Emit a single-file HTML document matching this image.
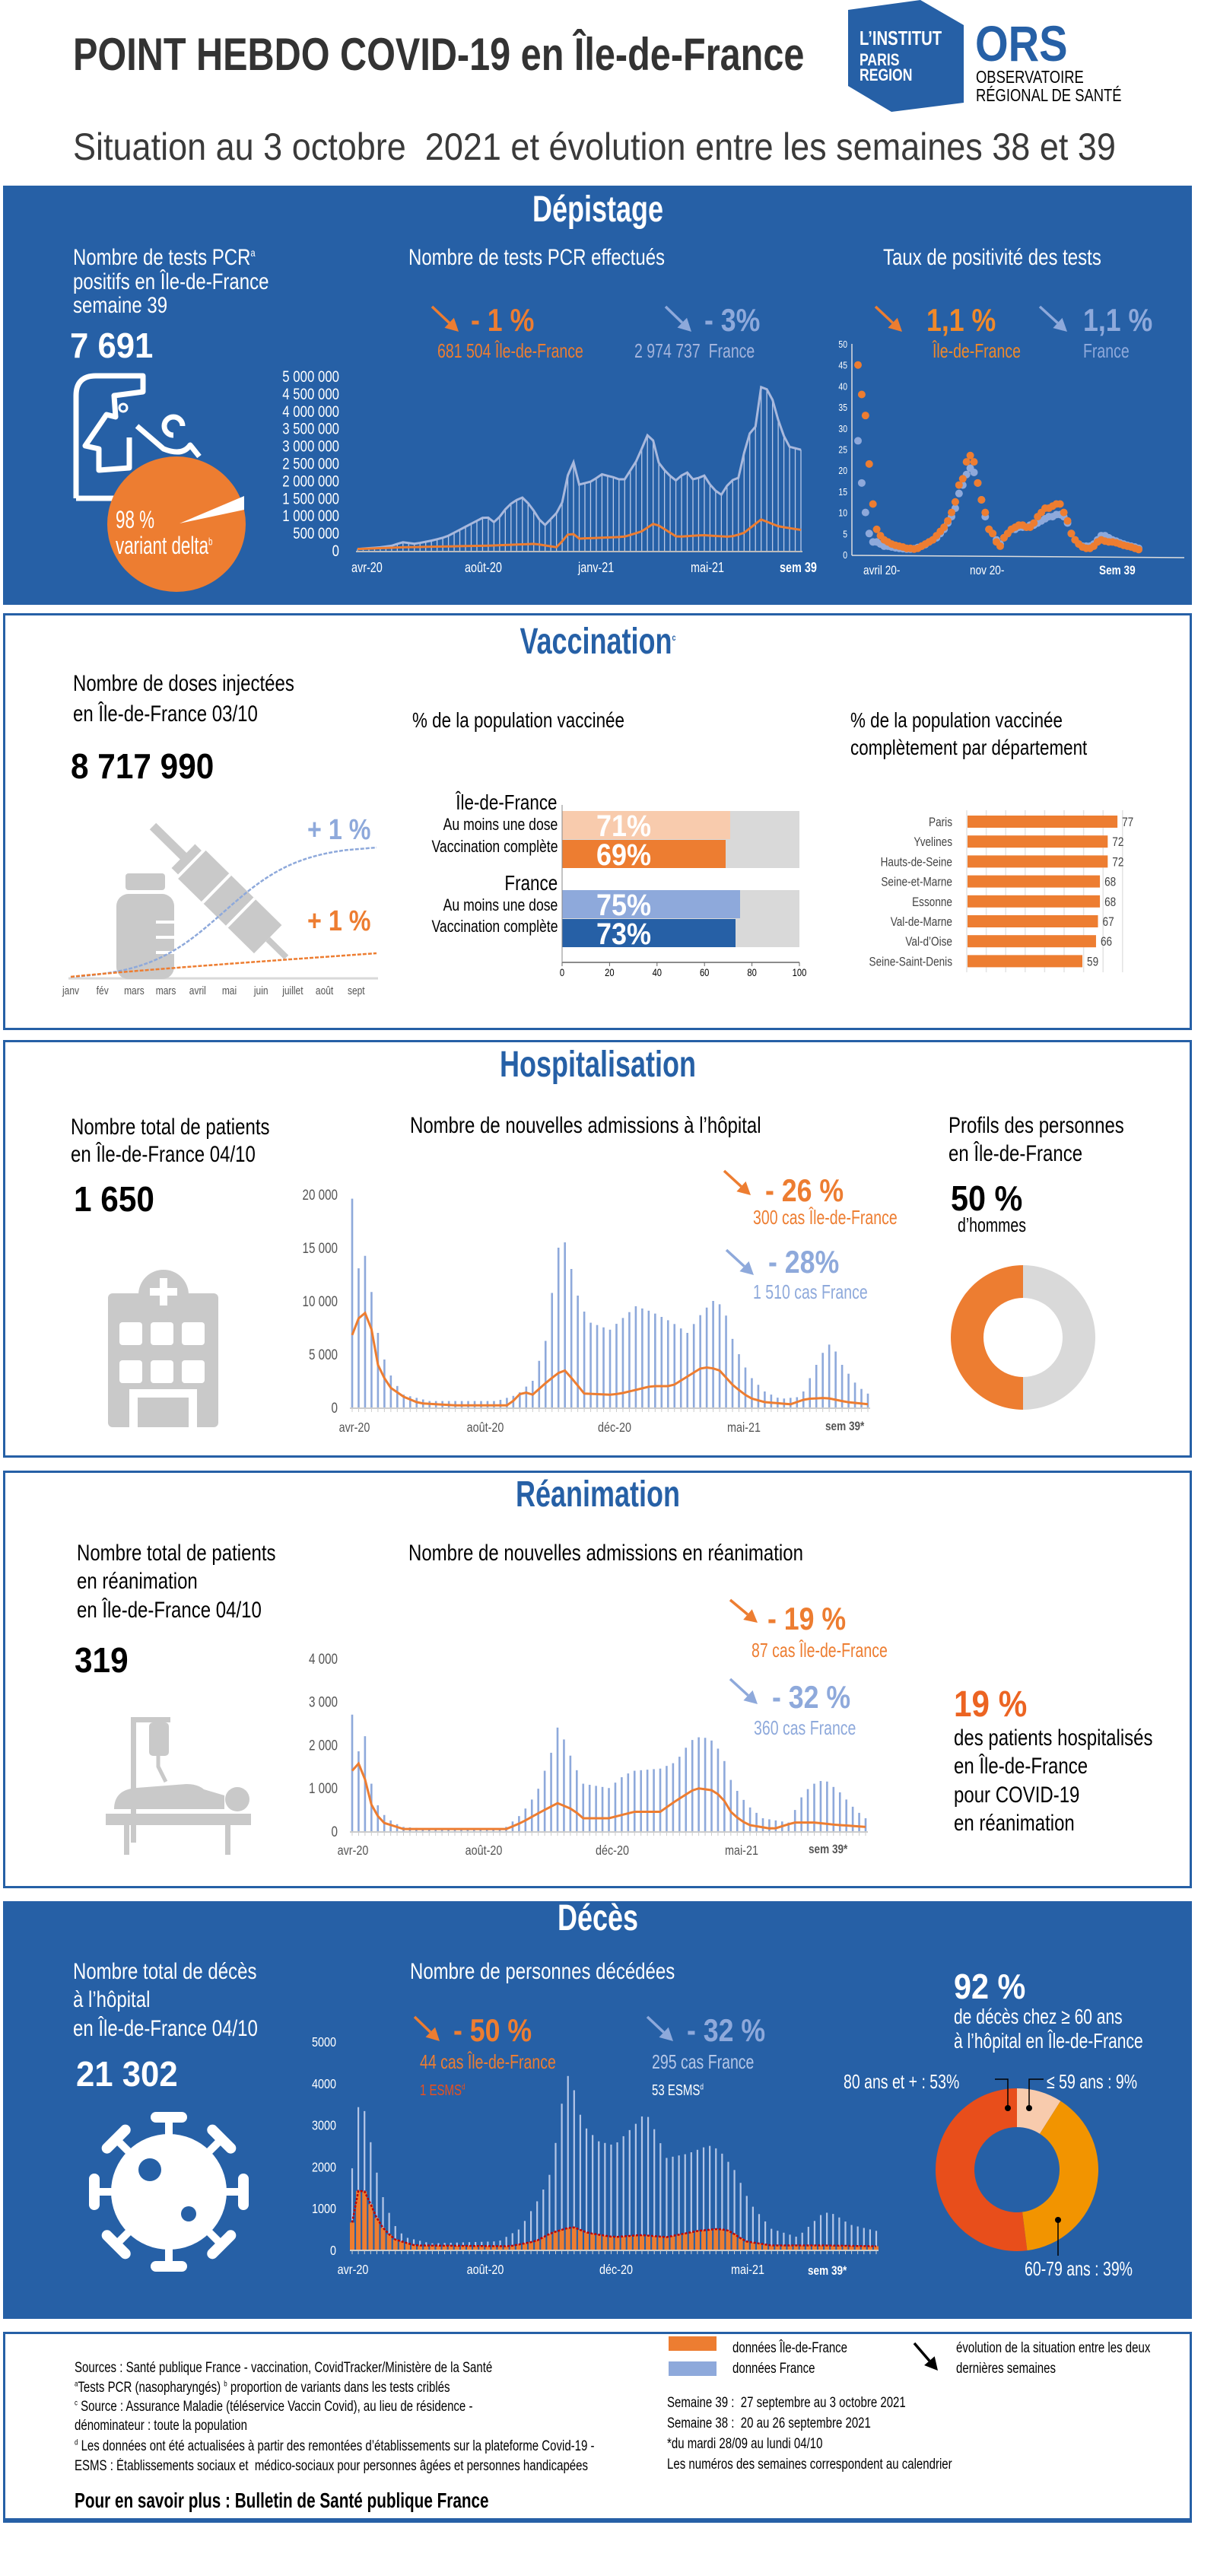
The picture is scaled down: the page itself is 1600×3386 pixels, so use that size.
<!DOCTYPE html>
<html><head><meta charset="utf-8">
<style>
body{margin:0;width:1600px;height:3386px;position:relative;background:#fff;overflow:hidden}
.t{position:absolute;white-space:nowrap;line-height:1;font-family:"Liberation Sans",Arial,sans-serif;transform:scaleX(.8);transform-origin:0 50%;color:#000}
.r{transform-origin:100% 50%}
.c{left:0;width:1572px;text-align:center;transform-origin:50% 50%}
.b{font-weight:bold}
.w{color:#fff}
.o{color:#ed7d31}
.lb{color:#8ea9db}
.f{font-size:19px;transform:scaleX(.79)}
.box{position:absolute;left:4px;width:1563px;box-sizing:border-box}
.blue{background:#2660a6}
.wb{border:3px solid #2660a6;background:#fff}
svg{position:absolute;left:0;top:0}
</style></head><body>
<div class="box blue" style="top:244px;height:551px"></div>
<div class="box wb" style="top:806px;height:548px"></div>
<div class="box wb" style="top:1367px;height:549px"></div>
<div class="box wb" style="top:1933px;height:549px"></div>
<div class="box blue" style="top:2499px;height:549px"></div>
<div class="box wb" style="top:3065px;height:251px;border-bottom-width:6px"></div>

<svg id="g" width="1600" height="3386" viewBox="0 0 1600 3386">
<polygon points="1115,13 1210,0 1267,33 1267,135 1172,147 1115,113" fill="#2660a6"/>
</svg>

<!-- header -->
<div class="t b" style="left:96px;top:42px;font-size:60px;color:#333;transform:scaleX(.81)">POINT HEBDO COVID-19 en Île-de-France</div>
<div class="t w b" style="left:1130px;top:37px;font-size:26px;transform:scaleX(.78)">L’INSTITUT</div>
<div class="t w b" style="left:1130px;top:68px;font-size:22px;transform:scaleX(.8)">PARIS</div>
<div class="t w b" style="left:1130px;top:88px;font-size:22px;transform:scaleX(.8)">REGION</div>
<div class="t b" style="left:1282px;top:24px;font-size:66px;color:#2660a6;transform:scaleX(.85)">ORS</div>
<div class="t" style="left:1283px;top:90px;font-size:23px;transform:scaleX(.8)">OBSERVATOIRE</div>
<div class="t" style="left:1283px;top:114px;font-size:23px;transform:scaleX(.8)">RÉGIONAL DE SANTÉ</div>
<div class="t" style="left:96px;top:168px;font-size:50px;color:#3a3a3a;transform:scaleX(.9)">Situation au 3 octobre&nbsp; 2021 et évolution entre les semaines 38 et 39</div>

<!-- Dépistage -->
<div class="t c w b" style="top:252px;font-size:48px;transform:scaleX(.75)">Dépistage</div>
<div class="t w" style="left:96px;top:324px;font-size:30px">Nombre de tests PCR<sup style="font-size:14px">a</sup></div>
<div class="t w" style="left:96px;top:356px;font-size:30px">positifs en Île-de-France</div>
<div class="t w" style="left:96px;top:387px;font-size:30px">semaine 39</div>
<div class="t w b" style="left:92px;top:431px;font-size:46px;transform:scaleX(.95)">7 691</div>
<div class="t w" style="left:537px;top:324px;font-size:30px">Nombre de tests PCR effectués</div>
<div class="t w" style="left:1161px;top:324px;font-size:30px">Taux de positivité des tests</div>
<div class="t o b" style="left:619px;top:400px;font-size:42px;transform:scaleX(.85)">- 1 %</div>
<div class="t o" style="left:575px;top:448px;font-size:26px;transform:scaleX(.75)">681 504 Île-de-France</div>
<div class="t lb b" style="left:926px;top:400px;font-size:42px;transform:scaleX(.85)">- 3%</div>
<div class="t" style="left:834px;top:448px;font-size:26px;color:#a4b4dc;transform:scaleX(.75)">2 974 737&nbsp; France</div>
<div class="t b" style="left:1218px;top:400px;font-size:42px;color:#f0892a;transform:scaleX(.85)">1,1 %</div>
<div class="t" style="left:1226px;top:448px;font-size:26px;color:#f0892a;transform:scaleX(.75)">Île-de-France</div>
<div class="t lb b" style="left:1424px;top:400px;font-size:42px;transform:scaleX(.85)">1,1 %</div>
<div class="t lb" style="left:1424px;top:448px;font-size:26px;transform:scaleX(.75)">France</div>
<div class="t w" style="left:152px;top:667px;font-size:32px;transform:scaleX(.7)">98 %</div>
<div class="t w" style="left:152px;top:701px;font-size:32px;transform:scaleX(.7)">variant delta<sup style="font-size:14px">b</sup></div>
<div class="t w" style="left:462px;top:737px;font-size:18px">avr-20</div>
<div class="t w" style="left:611px;top:737px;font-size:18px">août-20</div>
<div class="t w" style="left:760px;top:737px;font-size:18px">janv-21</div>
<div class="t w" style="left:908px;top:737px;font-size:18px">mai-21</div>
<div class="t w b" style="left:1025px;top:737px;font-size:18px">sem 39</div>
<div class="t w" style="left:1135px;top:741px;font-size:17px">avril 20-</div>
<div class="t w" style="left:1275px;top:741px;font-size:17px">nov 20-</div>
<div class="t w b" style="left:1445px;top:741px;font-size:17px">Sem 39</div>

<!-- Vaccination -->
<div class="t c b" style="top:820px;font-size:48px;color:#2660a6;transform:scaleX(.75)">Vaccination<sup style="font-size:12px">c</sup></div>
<div class="t" style="left:96px;top:884px;font-size:30px">Nombre de doses injectées</div>
<div class="t" style="left:96px;top:924px;font-size:30px">en Île-de-France 03/10</div>
<div class="t b" style="left:93px;top:984px;font-size:46px;transform:scaleX(.92)">8 717 990</div>
<div class="t b lb" style="left:404px;top:1072px;font-size:38px;transform:scaleX(.85)">+ 1 %</div>
<div class="t b o" style="left:404px;top:1192px;font-size:38px;transform:scaleX(.85)">+ 1 %</div>
<div class="t" style="left:542px;top:933px;font-size:28px">% de la population vaccinée</div>
<div class="t" style="left:1118px;top:933px;font-size:28px">% de la population vaccinée</div>
<div class="t" style="left:1118px;top:969px;font-size:28px">complètement par département</div>
<div class="t r" style="right:867px;top:1041px;font-size:28px">Île-de-France</div>
<div class="t r" style="right:867px;top:1073px;font-size:22px">Au moins une dose</div>
<div class="t r" style="right:867px;top:1102px;font-size:22px">Vaccination complète</div>
<div class="t r" style="right:867px;top:1147px;font-size:28px">France</div>
<div class="t r" style="right:867px;top:1179px;font-size:22px">Au moins une dose</div>
<div class="t r" style="right:867px;top:1207px;font-size:22px">Vaccination complète</div>

<!-- Hospitalisation -->
<div class="t c b" style="top:1376px;font-size:48px;color:#2660a6;transform:scaleX(.75)">Hospitalisation</div>
<div class="t" style="left:93px;top:1467px;font-size:30px">Nombre total de patients</div>
<div class="t" style="left:93px;top:1503px;font-size:30px">en Île-de-France 04/10</div>
<div class="t b" style="left:97px;top:1553px;font-size:46px;transform:scaleX(.92)">1 650</div>
<div class="t" style="left:539px;top:1465px;font-size:30px">Nombre de nouvelles admissions à l’hôpital</div>
<div class="t o b" style="left:1006px;top:1544px;font-size:42px;transform:scaleX(.85)">- 26 %</div>
<div class="t o" style="left:990px;top:1587px;font-size:26px;transform:scaleX(.75)">300 cas Île-de-France</div>
<div class="t lb b" style="left:1010px;top:1638px;font-size:42px;transform:scaleX(.85)">- 28%</div>
<div class="t lb" style="left:990px;top:1685px;font-size:26px;transform:scaleX(.75)">1 510 cas France</div>
<div class="t" style="left:1247px;top:1465px;font-size:30px">Profils des personnes</div>
<div class="t" style="left:1247px;top:1502px;font-size:30px">en Île-de-France</div>
<div class="t b" style="left:1250px;top:1552px;font-size:46px;transform:scaleX(.9)">50 %</div>
<div class="t" style="left:1259px;top:1597px;font-size:26px;transform:scaleX(.75)">d’hommes</div>

<!-- Réanimation -->
<div class="t c b" style="top:1941px;font-size:48px;color:#2660a6;transform:scaleX(.75)">Réanimation</div>
<div class="t" style="left:101px;top:2027px;font-size:30px">Nombre total de patients</div>
<div class="t" style="left:101px;top:2064px;font-size:30px">en réanimation</div>
<div class="t" style="left:101px;top:2102px;font-size:30px">en Île-de-France 04/10</div>
<div class="t b" style="left:98px;top:2159px;font-size:46px;transform:scaleX(.92)">319</div>
<div class="t" style="left:537px;top:2027px;font-size:30px">Nombre de nouvelles admissions en réanimation</div>
<div class="t o b" style="left:1009px;top:2107px;font-size:42px;transform:scaleX(.85)">- 19 %</div>
<div class="t o" style="left:988px;top:2156px;font-size:26px;transform:scaleX(.75)">87 cas Île-de-France</div>
<div class="t lb b" style="left:1015px;top:2210px;font-size:42px;transform:scaleX(.85)">- 32 %</div>
<div class="t lb" style="left:991px;top:2258px;font-size:26px;transform:scaleX(.75)">360 cas France</div>
<div class="t b" style="left:1254px;top:2217px;font-size:48px;color:#ec6422;transform:scaleX(.88)">19 %</div>
<div class="t" style="left:1254px;top:2270px;font-size:30px">des patients hospitalisés</div>
<div class="t" style="left:1254px;top:2307px;font-size:30px">en Île-de-France</div>
<div class="t" style="left:1254px;top:2345px;font-size:30px">pour COVID-19</div>
<div class="t" style="left:1254px;top:2382px;font-size:30px">en réanimation</div>

<!-- Décès -->
<div class="t c w b" style="top:2498px;font-size:48px;transform:scaleX(.75)">Décès</div>
<div class="t w" style="left:96px;top:2577px;font-size:30px">Nombre total de décès</div>
<div class="t w" style="left:96px;top:2614px;font-size:30px">à l’hôpital</div>
<div class="t w" style="left:96px;top:2652px;font-size:30px">en Île-de-France 04/10</div>
<div class="t w b" style="left:100px;top:2703px;font-size:46px;transform:scaleX(.95)">21 302</div>
<div class="t w" style="left:539px;top:2577px;font-size:30px">Nombre de personnes décédées</div>
<div class="t o b" style="left:596px;top:2648px;font-size:42px;transform:scaleX(.85)">- 50 %</div>
<div class="t o" style="left:552px;top:2697px;font-size:26px;transform:scaleX(.75)">44 cas Île-de-France</div>
<div class="t" style="left:552px;top:2738px;font-size:20px;color:#e8501e;transform:scaleX(.75)">1 ESMS<sup style="font-size:11px">d</sup></div>
<div class="t lb b" style="left:903px;top:2648px;font-size:42px;transform:scaleX(.85)">- 32 %</div>
<div class="t" style="left:857px;top:2697px;font-size:26px;color:#b4c6e7;transform:scaleX(.75)">295 cas France</div>
<div class="t w" style="left:857px;top:2738px;font-size:20px;transform:scaleX(.75)">53 ESMS<sup style="font-size:11px">d</sup></div>
<div class="t w b" style="left:1254px;top:2588px;font-size:46px;transform:scaleX(.9)">92 %</div>
<div class="t w" style="left:1254px;top:2637px;font-size:28px;transform:scaleX(.75)">de décès chez ≥ 60 ans</div>
<div class="t w" style="left:1254px;top:2669px;font-size:28px;transform:scaleX(.75)">à l’hôpital en Île-de-France</div>
<div class="t w" style="left:1109px;top:2723px;font-size:26px;transform:scaleX(.75)">80 ans et + : 53%</div>
<div class="t w" style="left:1376px;top:2723px;font-size:26px;transform:scaleX(.75)">≤ 59 ans : 9%</div>
<div class="t w" style="left:1347px;top:2969px;font-size:26px;transform:scaleX(.75)">60-79 ans : 39%</div>

<!-- Footer -->
<div class="t f" style="left:98px;top:3103px">Sources : Santé publique France - vaccination, CovidTracker/Ministère de la Santé</div>
<div class="t f" style="left:98px;top:3129px"><sup style="font-size:10px">a</sup>Tests PCR (nasopharyngés) <sup style="font-size:10px">b</sup> proportion de variants dans les tests criblés</div>
<div class="t f" style="left:98px;top:3154px"><sup style="font-size:10px">c</sup> Source : Assurance Maladie (téléservice Vaccin Covid), au lieu de résidence -</div>
<div class="t f" style="left:98px;top:3179px">dénominateur : toute la population</div>
<div class="t f" style="left:98px;top:3206px"><sup style="font-size:10px">d</sup> Les données ont été actualisées à partir des remontées d’établissements sur la plateforme Covid-19 -</div>
<div class="t f" style="left:98px;top:3232px">ESMS : Établissements sociaux et&nbsp; médico-sociaux pour personnes âgées et personnes handicapées</div>
<div class="t b" style="left:98px;top:3273px;font-size:28px;transform:scaleX(.74)">Pour en savoir plus : Bulletin de Santé publique France</div>
<div class="t f" style="left:963px;top:3077px">données Île-de-France</div>
<div class="t f" style="left:963px;top:3104px">données France</div>
<div class="t f" style="left:1257px;top:3077px">évolution de la situation entre les deux</div>
<div class="t f" style="left:1257px;top:3104px">dernières semaines</div>
<div class="t f" style="left:877px;top:3149px">Semaine 39 :&nbsp; 27 septembre au 3 octobre 2021</div>
<div class="t f" style="left:877px;top:3176px">Semaine 38 :&nbsp; 20 au 26 septembre 2021</div>
<div class="t f" style="left:877px;top:3203px">*du mardi 28/09 au lundi 04/10</div>
<div class="t f" style="left:877px;top:3230px">Les numéros des semaines correspondent au calendrier</div>

<script>
(function(){
const S=document.getElementById('g');let h='';
function I(k,f){for(let i=1;i<k.length;i++){if(f<=k[i][0]){const a=k[i-1],b=k[i];return a[1]+(b[1]-a[1])*(f-a[0])/(b[0]-a[0]);}}return k[k.length-1][1];}
function arrow(x1,y1,x2,y2,c){const dx=x2-x1,dy=y2-y1,L=Math.hypot(dx,dy),ux=dx/L,uy=dy/L,hl=17,hw=9,bx=x2-ux*hl,by=y2-uy*hl;
h+=`<line x1="${x1}" y1="${y1}" x2="${bx}" y2="${by}" stroke="${c}" stroke-width="3.5"/><polygon points="${x2},${y2} ${bx-uy*hw},${by+ux*hw} ${bx+uy*hw},${by-ux*hw}" fill="${c}"/>`;}
function arc(cx,cy,R,r,a0,a1,c){const p=(q,a)=>[cx+q*Math.sin(a*Math.PI/180),cy-q*Math.cos(a*Math.PI/180)];const lg=(a1-a0)>180?1:0;
const [x0,y0]=p(R,a0),[x1,y1]=p(R,a1),[x2,y2]=p(r,a1),[x3,y3]=p(r,a0);
h+=`<path d="M${x0},${y0}A${R},${R} 0 ${lg} 1 ${x1},${y1}L${x2},${y2}A${r},${r} 0 ${lg} 0 ${x3},${y3}Z" fill="${c}"/>`;}
function txt(x,y,s,fs,col,anchor){h+=`<text x="${x}" y="${y}" font-family="Liberation Sans,Arial,sans-serif" font-size="${fs}" fill="${col}" text-anchor="${anchor||'end'}" transform="translate(${x},0) scale(.8,1) translate(${-x},0)">${s}</text>`;}
const OR='#ed7d31',LB='#8ea9db';
const pb=[[0,.05],[.05,.1],[.08,.15],[.1,.25],[.13,.2],[.17,.3],[.2,.4],[.23,.6],[.26,.8],[.29,1.0],[.31,.8],[.34,1.3],[.37,1.55],[.39,1.3],[.42,.7],[.45,1.1],[.47,1.6],[.48,2.9],[.50,1.9],[.53,2.0],[.55,2.2],[.58,2.1],[.6,2.0],[.63,2.6],[.66,3.5],[.68,2.5],[.70,2.2],[.72,2.0],[.74,2.3],[.76,2.0],[.78,2.2],[.80,1.8],[.82,1.6],[.84,2.0],[.86,2.1],[.88,3.3],[.9,3.6],[.91,4.7],[.93,4.6],[.95,3.7],[.97,3.0],[1,2.9]];
const po=[[0,.05],[.1,.1],[.3,.15],[.4,.2],[.45,.1],[.48,.55],[.5,.35],[.6,.4],[.64,.55],[.67,.8],[.72,.4],[.78,.45],[.84,.4],[.87,.5],[.91,.9],[.95,.7],[1,.6]];
let N=78,l='',pl='',ol='';
for(let i=0;i<=N;i++){const f=i/N,x=470+f*583,y=724-I(pb,f)*45.8;l+=`<line x1="${x}" y1="724" x2="${x}" y2="${y}" stroke="#b8c8e6" stroke-width="1.3"/>`;pl+=`${x},${y} `;ol+=`${x},${724-I(po,f)*45.8} `;}
h+=l+`<polyline points="${pl}" fill="none" stroke="#a9b9dd" stroke-width="3"/><polyline points="${ol}" fill="none" stroke="${OR}" stroke-width="3"/><line x1="468" y1="725" x2="1055" y2="725" stroke="#bbb" stroke-width="2"/>`;
const yl=['0','500 000','1 000 000','1 500 000','2 000 000','2 500 000','3 000 000','3 500 000','4 000 000','4 500 000','5 000 000'];
for(let k=0;k<=10;k++){txt(446,724-k*22.9+7,yl[k],21,'#fff');}
const por=[45,38,33,21.5,12,6,4.5,3.5,3,2.5,2.2,2,1.8,1.5,1.5,1.3,1.5,2,2.5,3,3.5,4.5,5.5,6.5,8,10,12.5,16.5,18,22,23.5,22,17,13,10,6,5,3,2,4,5,6,6.5,7,7,6.5,6.5,7.5,9,10,11,11,11.5,12,12,10,8,5,3.5,2.5,1.8,1.5,1.5,2,3,3.5,3.2,3,3,2.8,2.5,2.2,2,1.8,1.5,1.2];
const pbl=[27,17,10,5,3,3,2.5,2,2,1.8,1.6,1.5,1.4,1.3,1.3,1.4,1.7,2,2.4,3,3.5,4,5,6,7.5,9,11,14.5,16.5,19,20.5,19.5,17,13,9,6,5,3.5,2.5,4,5,6,6,6.5,6.5,6.5,7,7,7.5,8,8.5,9,9,9.5,9.5,9,7.5,5,3.5,2.5,2,2,2,2.5,3.5,4.5,4.5,4,3.5,3.2,2.8,2.5,2.2,2,1.8,1.5];
h+=`<line x1="1120" y1="452" x2="1120" y2="730" stroke="#ddd" stroke-width="1.5"/><line x1="1120" y1="730" x2="1557" y2="733" stroke="#ddd" stroke-width="1.5"/>`;
pbl.forEach((v,i)=>{h+=`<circle cx="${1128+i*369/(pbl.length-1)}" cy="${729-v*5.54}" r="5" fill="${LB}"/>`});
por.forEach((v,i)=>{h+=`<circle cx="${1128+i*369/(por.length-1)}" cy="${729-v*5.54}" r="5" fill="${OR}"/>`});
for(let k=0;k<=10;k++)txt(1114,729-k*27.7+5,k*5,13,'#fff');
arrow(568,403,603,436,OR);arrow(875,403,909,436,LB);arrow(1151,403,1186,436,OR);arrow(1367,403,1403,436,LB);
h+=`<g fill="none" stroke="#fff" stroke-width="7" stroke-linejoin="round"><path d="M100,655 L100,520 Q100,494 126,494 L188,494 L188,515 L150,520 L152,548 L140,545 L112,586 L130,590 L130,618 L170,615 L170,575"/><path d="M100,655 L150,655"/><path d="M180,560 L215,590 Q240,600 250,585 L262,600"/><path d="M228,572 A12,12 0 1 1 240,560"/></g><circle cx="162" cy="536" r="5" fill="none" stroke="#fff" stroke-width="3"/>`;
h+=`<ellipse cx="232" cy="689" rx="91" ry="89" fill="${OR}"/><polygon points="236,688 321,652 321,670" fill="#fff"/>`;
let bl='',orl='';
for(let i=0;i<=60;i++){const t=i/60,x=93+t*402;let v=1/(1+Math.exp(-(t-.5)*8));v=(v-0.018)/(0.98-0.018);if(t>.85)v=Math.min(v,.97+(t-.85)*.2);bl+=`${x},${1284-Math.min(v,1)*170} `;orl+=`${x},${1284-31*Math.pow(t,.9)} `;}
h+=`<line x1="90" y1="1286" x2="497" y2="1286" stroke="#d9d9d9" stroke-width="3"/>`;
h+=`<rect x="165" y="1148" width="52" height="22" rx="4" fill="#c9c9c9"/><rect x="153" y="1175" width="76" height="112" rx="16" fill="#c9c9c9"/><g fill="#fff"><rect x="205" y="1210" width="24" height="4"/><rect x="205" y="1230" width="24" height="4"/><rect x="205" y="1250" width="24" height="4"/></g>`;
h+=`<g transform="translate(201,1086) rotate(44.5)" fill="#c9c9c9"><rect x="0" y="-6" width="62" height="12"/><rect x="56" y="-22" width="12" height="44"/><rect x="72" y="-26" width="140" height="52"/><rect x="212" y="-4" width="34" height="8"/><rect x="115" y="-26" width="4" height="52" fill="#fff"/><rect x="160" y="-26" width="4" height="52" fill="#fff"/></g>`;
h+=`<polyline points="${bl}" fill="none" stroke="${LB}" stroke-width="2.5" stroke-dasharray="5 2"/><polyline points="${orl}" fill="none" stroke="${OR}" stroke-width="2.5" stroke-dasharray="5 2"/>`;
['janv','fév','mars','mars','avril','mai','juin','juillet','août','sept'].forEach((m,i)=>txt(93+i*41.7,1307,m,15,'#555','middle'));
h+=`<g><rect x="739" y="1066" width="312" height="75" fill="#d9d9d9"/><rect x="739" y="1170" width="312" height="75" fill="#d9d9d9"/>
<rect x="739" y="1066" width="221" height="37" fill="#f8cbad"/><rect x="739" y="1104" width="215" height="37" fill="${OR}"/>
<rect x="739" y="1170" width="234" height="37" fill="${LB}"/><rect x="739" y="1208" width="228" height="37" fill="#2660a6"/>
<line x1="739" y1="1265" x2="1051" y2="1265" stroke="#666" stroke-width="1.5"/><line x1="739" y1="1058" x2="739" y2="1265" stroke="#888" stroke-width="1"/></g>`;
[['71%',1099],['69%',1137],['75%',1203],['73%',1241]].forEach(a=>{h+=`<text x="784" y="${a[1]}" font-family="Liberation Sans,Arial,sans-serif" font-weight="bold" font-size="40" fill="#fff" transform="translate(784,0) scale(.9,1) translate(-784,0)">${a[0]}</text>`});
for(let k=0;k<=5;k++){const x=739+k*62.4;h+=`<line x1="${x}" y1="1265" x2="${x}" y2="1270" stroke="#666"/>`;txt(x,1283,k*20,14,'#000','middle');}
const dep=[['Paris',77],['Yvelines',72],['Hauts-de-Seine',72],['Seine-et-Marne',68],['Essonne',68],['Val-de-Marne',67],['Val-d’Oise',66],['Seine-Saint-Denis',59]];
for(let k=0;k<=8;k++){const x=1271+k*25.6;h+=`<line x1="${x}" y1="1065" x2="${x}" y2="1278" stroke="#e3e3e3" stroke-width="1.5"/>`;}
dep.forEach((d,i)=>{const y=1080+i*26.2;h+=`<rect x="1272" y="${y-8}" width="${d[1]*2.56}" height="16" fill="${OR}"/>`;txt(1252,y+6,d[0],17,'#444');txt(1278+d[1]*2.56,y+6,d[1],17,'#444','start');});
const hb=[[0,19.6],[.012,13],[.024,14.5],[.036,11.3],[.05,7],[.065,4],[.08,2.5],[.1,1.2],[.15,.6],[.28,.6],[.32,1.2],[.35,2.5],[.38,7],[.395,14.5],[.41,16],[.42,14],[.44,10],[.46,8],[.5,7.3],[.55,9.5],[.58,9],[.62,8],[.65,7],[.68,9],[.7,10],[.72,9.5],[.74,6],[.77,3],[.8,1.5],[.83,.8],[.87,1],[.9,4],[.92,5.8],[.93,6],[.95,4],[.98,2],[1,1.3]];
const ho=[[0,6.8],[.02,9.3],[.035,8],[.05,4],[.07,2],[.1,1],[.13,.4],[.2,.2],[.3,.2],[.31,.5],[.33,1.5],[.35,1.2],[.38,2.5],[.41,3.6],[.43,2.5],[.45,1.3],[.5,1.2],[.52,1.3],[.58,2],[.62,2],[.66,3.2],[.68,3.8],[.71,3.6],[.74,2],[.77,.9],[.8,.5],[.85,.3],[.88,.8],[.92,.9],[.96,.5],[1,.3]];
function barchart(keys,ok,x0,x1,y0,sc,bc,bw,n){let s='',o='';for(let i=0;i<=n;i++){const f=i/n,x=x0+f*(x1-x0);s+=`<rect x="${x-bw/2}" y="${y0-I(keys,f)*sc}" width="${bw}" height="${I(keys,f)*sc}" fill="${bc}"/>`;o+=`${x},${y0-I(ok,f)*sc} `;h+=`<line x1="${x}" y1="${y0}" x2="${x}" y2="${y0+6}" stroke="#ccc" stroke-width="1"/>`;}
h+=s;h+=`<line x1="${x0-3}" y1="${y0+1}" x2="${x1+3}" y2="${y0+1}" stroke="#ccc" stroke-width="2"/>`;return o;}
let o=barchart(hb,ho,463,1141,1850,14,LB,2.6,80);
h+=`<polyline points="${o}" fill="none" stroke="${OR}" stroke-width="3"/>`;
['20 000','15 000','10 000','5 000','0'].forEach((s,i)=>txt(444,1850-(4-i)*70+7,s,19,'#555'));
[['avr-20',466],['août-20',638],['déc-20',808],['mai-21',978]].forEach(a=>txt(a[1],1882,a[0],18,'#555','middle'));
h+=`<text x="1085" y="1880" font-family="Liberation Sans,Arial,sans-serif" font-weight="bold" font-size="17" fill="#555" transform="translate(1085,0) scale(.8,1) translate(-1085,0)">sem 39*</text>`;
arrow(952,1539,987,1571,OR);arrow(955,1643,991,1676,LB);
arc(1345,1758,95,52,0,180,'#d9d9d9');arc(1345,1758,95,52,180,360,OR);
h+=`<g fill="#c9c9c9"><rect x="142" y="1700" width="145" height="176" rx="6"/><circle cx="215" cy="1702" r="33"/></g><g fill="#fff"><rect x="210" y="1680" width="10" height="36"/><rect x="197" y="1693" width="36" height="10"/>`;
for(let r=0;r<2;r++)for(let c=0;c<3;c++)h+=`<rect x="${157+c*41}" y="${1738+r*50}" width="30" height="30" rx="4"/>`;
h+=`<rect x="170" y="1826" width="89" height="50"/></g><rect x="181" y="1837" width="67" height="39" fill="#c9c9c9"/>`;
const rb=[[0,2.7],[.01,1.5],[.02,2.9],[.03,1.5],[.045,.7],[.06,.4],[.08,.2],[.1,.1],[.15,.05],[.28,.05],[.3,.1],[.33,.4],[.36,.9],[.39,1.9],[.40,2.4],[.41,2.2],[.43,1.6],[.45,1.1],[.5,1.0],[.53,1.3],[.55,1.4],[.6,1.45],[.63,1.6],[.66,2.1],[.68,2.2],[.7,2.1],[.72,1.8],[.74,1.1],[.77,.6],[.8,.3],[.85,.2],[.88,.9],[.9,1.1],[.92,1.2],[.95,.9],[.98,.5],[1,.3]];
const ro=[[0,1.4],[.015,1.6],[.025,1.2],[.04,.5],[.06,.2],[.1,.05],[.3,.05],[.33,.2],[.36,.4],[.4,.65],[.43,.5],[.45,.3],[.5,.3],[.55,.45],[.6,.45],[.63,.7],[.67,1.0],[.7,.95],[.72,.8],[.74,.4],[.77,.15],[.82,.05],[.86,.2],[.9,.2],[.94,.15],[1,.1]];
o=barchart(rb,ro,463,1138,2407,56.75,LB,2.6,80);
h+=`<polyline points="${o}" fill="none" stroke="${OR}" stroke-width="3"/>`;
['4 000','3 000','2 000','1 000','0'].forEach((s,i)=>txt(444,2407-(4-i)*56.75+7,s,19,'#555'));
[['avr-20',464],['août-20',636],['déc-20',805],['mai-21',975]].forEach(a=>txt(a[1],2438,a[0],18,'#555','middle'));
h+=`<text x="1063" y="2436" font-family="Liberation Sans,Arial,sans-serif" font-weight="bold" font-size="17" fill="#555" transform="translate(1063,0) scale(.8,1) translate(-1063,0)">sem 39*</text>`;
arrow(960,2103,996,2133,OR);arrow(960,2207,996,2240,LB);
h+=`<g fill="#c9c9c9"><rect x="172" y="2257" width="7" height="165"/><rect x="172" y="2257" width="52" height="7"/><rect x="196" y="2264" width="26" height="44" rx="5"/><rect x="139" y="2384" width="191" height="15"/><rect x="163" y="2398" width="7" height="40"/><rect x="296" y="2398" width="7" height="40"/><path d="M150,2378 Q150,2352 180,2350 L245,2345 Q260,2345 268,2352 L295,2360 L295,2378 Z"/><circle cx="312" cy="2365" r="16"/></g><path d="M208,2308 L208,2322 L218,2342" fill="none" stroke="#c9c9c9" stroke-width="5"/>`;
const db=[[0,1.95],[.01,3.4],[.02,3.5],[.03,3.0],[.04,2.2],[.06,1.2],[.08,.6],[.1,.3],[.15,.15],[.28,.2],[.32,.5],[.36,1.3],[.38,1.9],[.40,3.5],[.41,4.2],[.42,4.0],[.44,3.0],[.47,2.6],[.5,2.5],[.54,3.0],[.56,3.3],[.58,2.8],[.6,2.2],[.64,2.3],[.68,2.5],[.7,2.4],[.73,1.9],[.76,1.1],[.8,.5],[.85,.3],[.9,.9],[.92,.85],[.95,.6],[1,.45]];
const dor=[[0,.65],[.01,1.4],[.02,1.45],[.03,1.3],[.04,.9],[.06,.5],[.08,.25],[.12,.1],[.3,.08],[.35,.2],[.38,.4],[.42,.55],[.45,.4],[.5,.3],[.55,.35],[.6,.3],[.66,.45],[.7,.5],[.72,.45],[.75,.2],[.8,.1],[.9,.1],[1,.08]];
o=barchart(db,dor,463,1152,2957,54.8,'#b4c6e7',2.2,85);
let ob='';for(let i=0;i<=85;i++){const f=i/85,x=463+f*689,v=I(dor,f)*54.8;ob+=`<rect x="${x-3}" y="${2957-v}" width="6" height="${v}" fill="${OR}"/>`;}
h+=ob+`<polyline points="${o}" fill="none" stroke="#c00000" stroke-width="2.5" stroke-dasharray="3 2"/>`;
['5000','4000','3000','2000','1000','0'].forEach((s,i)=>txt(442,2957-(5-i)*54.8+7,s,18,'#fff'));
[['avr-20',464],['août-20',638],['déc-20',810],['mai-21',983]].forEach(a=>txt(a[1],2989,a[0],18,'#fff','middle'));
h+=`<text x="1062" y="2990" font-family="Liberation Sans,Arial,sans-serif" font-weight="bold" font-size="17" fill="#fff" transform="translate(1062,0) scale(.8,1) translate(-1062,0)">sem 39*</text>`;
arrow(545,2651,578,2683,OR);arrow(851,2651,885,2683,LB);
arc(1337,2852,107,56,0,32.4,'#f8cbad');arc(1337,2852,107,56,32.4,172.8,'#f29400');arc(1337,2852,107,56,172.8,360,'#e84e1b');
h+=`<g stroke="#000" stroke-width="1.5" fill="none"><path d="M1308,2733 L1325,2733 L1325,2771"/><path d="M1372,2733 L1353,2733 L1353,2771"/><path d="M1391,2918 L1391,2965"/></g><g fill="#000"><circle cx="1325" cy="2771" r="4"/><circle cx="1353" cy="2771" r="4"/><circle cx="1391" cy="2918" r="4"/></g>`;
h+=`<g fill="#fff" stroke="#fff"><circle cx="222" cy="2881" r="76" stroke="none"/>`;
for(let k=0;k<8;k++){const a=k*45*Math.PI/180,s=Math.sin(a),c=-Math.cos(a);const ex=222+s*98,ey=2881+c*98;h+=`<line x1="${222+s*70}" y1="${2881+c*70}" x2="${ex}" y2="${ey}" stroke-width="10"/><line x1="${ex-c*17}" y1="${ey+s*17}" x2="${ex+c*17}" y2="${ey-s*17}" stroke-width="14" stroke-linecap="round"/>`;}
h+=`</g><circle cx="197" cy="2852" r="15" fill="#2660a6"/><circle cx="248" cy="2910" r="10" fill="#2660a6"/>`;
h+=`<rect x="879" y="3071" width="63" height="19" fill="${OR}"/><rect x="879" y="3104" width="63" height="19" fill="${LB}"/>`;
arrow(1202,3080,1233,3116,'#000');
S.insertAdjacentHTML('beforeend',h);
})();
</script>
</body></html>
